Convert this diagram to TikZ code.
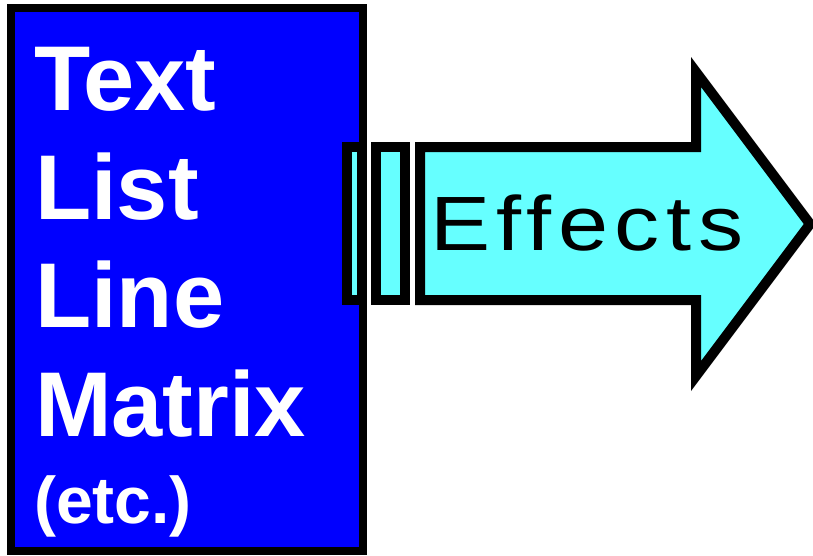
\documentclass[tikz,border=0pt]{standalone}
\usepackage{fontspec}
\setmainfont{Liberation Sans}
\newfontfamily\effectsfont[LetterSpace=8.5,FakeStretch=1.17]{Liberation Sans}
\definecolor{boxblue}{HTML}{0000FF}
\definecolor{arrowcyan}{HTML}{66FFFF}
\begin{document}
\begin{tikzpicture}[x=1pt,y=-1pt,
  boxtext/.style={anchor=base west,inner sep=0pt,text=white,font=\bfseries\fontsize{92}{92}\selectfont},
  smalltext/.style={anchor=base west,inner sep=0pt,text=white,font=\bfseries\fontsize{66}{66}\selectfont},
  arrowpart/.style={draw=black,fill=arrowcyan,line width=10pt,miter limit=20},
  barbox/.style={arrowpart,rectangle,inner sep=0pt,outer sep=0pt,anchor=north west}]
\useasboundingbox (0,0) rectangle (813,555);
% blue box
\node[draw=black,fill=boxblue,line width=8pt,rectangle,inner sep=0pt,outer sep=0pt,anchor=north west,
      minimum width=352pt,minimum height=543pt] (box) at (11,8) {};
\node[boxtext] (t1) at (34,110) {Text};
\node[boxtext] (t2) at (35,219) {List};
\node[boxtext] (t3) at (35,327) {Line};
\node[boxtext] (t4) at (35,436) {Matrix};
\node[smalltext] (t5) at (34,523) {(etc.)};
% striped arrow
\node[barbox,minimum width=15pt,minimum height=153pt] (bar1) at (347,147) {};
\node[barbox,minimum width=29pt,minimum height=153pt] (bar2) at (376,147) {};
\coordinate (a1) at (420,147);
\coordinate (a2) at (696,147);
\coordinate (a3) at (696,72);
\coordinate (a4) at (810,224);
\coordinate (a5) at (696,376);
\coordinate (a6) at (696,300);
\coordinate (a7) at (420,300);
\draw[arrowpart] (a1) -- (a2) -- (a3) -- (a4) -- (a5) -- (a6) -- (a7) -- cycle;
\node[anchor=base west,inner sep=0pt,font=\effectsfont\fontsize{77}{77}\selectfont] (eff) at (430,250) {Effects};
\end{tikzpicture}
\end{document}
